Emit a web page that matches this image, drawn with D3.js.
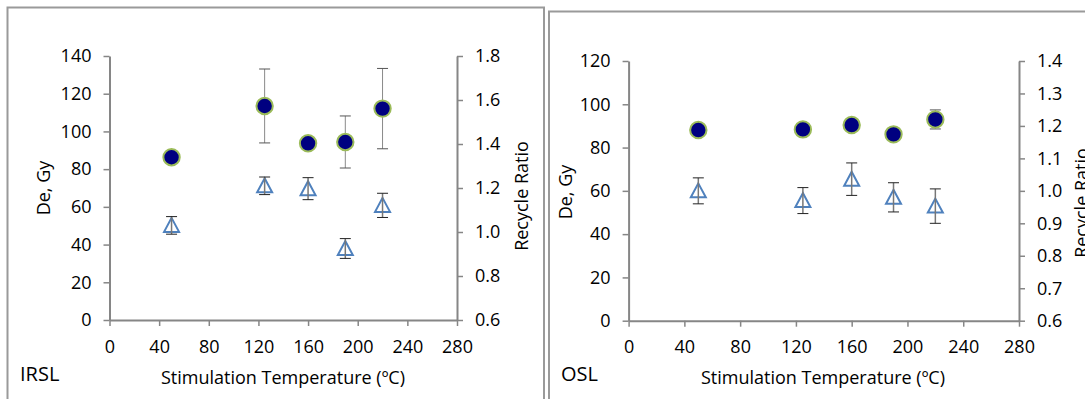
<!DOCTYPE html>
<html><head><meta charset="utf-8">
<script src="https://cdn.jsdelivr.net/npm/d3@7"></script>
<style>body{margin:0;background:#fff;}svg{display:block;}</style>
</head><body>
<svg id="c" width="1085" height="399"></svg>
<script>
// ---- data ----
const temps = [50, 125, 160, 190, 220];
const xTicks = [0, 40, 80, 120, 160, 200, 240, 280];

const irslDe = [86.3, 113.5, 93.7, 94.4, 112.1];
const irslDeErr = [2, 19.6, 2, 13.8, 21.3];
const irslRR = [1.03, 1.21, 1.197, 0.925, 1.121];
const irslRRErr = [0.04, 0.04, 0.05, 0.045, 0.055];
const irslLeftTicks = [0, 20, 40, 60, 80, 100, 120, 140];
const irslRightTicks = [0.6, 0.8, 1.0, 1.2, 1.4, 1.6, 1.8];

const oslDe = [88.1, 88.4, 90.4, 86.1, 93.0];
const oslDeErr = [2, 2, 2, 2, 4.4];
const oslRR = [1.0, 0.97, 1.036, 0.98, 0.953];
const oslRRErr = [0.04, 0.04, 0.05, 0.045, 0.053];
const oslLeftTicks = [0, 20, 40, 60, 80, 100, 120];
const oslRightTicks = [0.6, 0.7, 0.8, 0.9, 1.0, 1.1, 1.2, 1.3, 1.4];

const xTitle = "Stimulation Temperature (ºC)";
const yTitle = "De, Gy";
const y2Title = "Recycle Ratio";

const svg = d3.select("#c");
const FONT = "'Open Sans', Lato, sans-serif";
const AX = "#868686";

// panel borders
svg.append("rect").attr("x", 7.5).attr("y", 7.5).attr("width", 536.5).attr("height", 420)
  .attr("fill", "none").attr("stroke", "#9a9a9a").attr("stroke-width", 2);
svg.append("rect").attr("x", 549).attr("y", 11.5).attr("width", 560).attr("height", 420)
  .attr("fill", "none").attr("stroke", "#9a9a9a").attr("stroke-width", 2);

function panel(o) {
  const g = svg.append("g");
  const x = d3.scaleLinear().domain([0, 280]).range([o.x0, o.x1]);
  const y = d3.scaleLinear().domain([0, o.yMax]).range([o.yB, o.yT]);
  const y2 = d3.scaleLinear().domain([0.6, o.y2Max]).range([o.yB, o.yT]);

  const styleAxis = sel => {
    sel.select(".domain").attr("stroke", AX).attr("stroke-width", 2);
    sel.selectAll(".tick line").attr("stroke", AX).attr("stroke-width", 1.5);
    sel.selectAll(".tick text").attr("fill", "#000").style("font-family", FONT).style("font-size", "18px");
  };

  g.append("g").attr("transform", `translate(0,${o.yB})`)
    .call(d3.axisBottom(x).tickValues(xTicks).tickSize(6).tickSizeOuter(0).tickPadding(14).tickFormat(d3.format("d")))
    .call(styleAxis);
  g.append("g").attr("transform", `translate(${o.x0},0)`)
    .call(d3.axisLeft(y).tickValues(o.leftTicks).tickSize(6).tickSizeOuter(0).tickPadding(12).tickFormat(d3.format("d")))
    .call(styleAxis);
  g.append("g").attr("transform", `translate(${o.x1},0)`)
    .call(d3.axisRight(y2).tickValues(o.rightTicks).tickSize(6).tickSizeOuter(0).tickPadding(12).tickFormat(d3.format(".1f")))
    .call(styleAxis);

  // titles
  g.append("text").attr("x", o.xTitleX).attr("y", 384).attr("text-anchor", "middle")
    .style("font-family", FONT).style("font-size", "18px").text(xTitle);
  g.append("text").attr("transform", `translate(${o.yTitleX},${o.yTitleY}) rotate(-90)`)
    .attr("text-anchor", "middle").attr("dy", "0.35em")
    .style("font-family", FONT).style("font-size", "18px").text(yTitle);
  g.append("text").attr("transform", `translate(${o.y2TitleX},${o.y2TitleY}) rotate(-90)`)
    .attr("text-anchor", "middle").attr("dy", "0.35em")
    .style("font-family", FONT).style("font-size", "18px").text(y2Title);
  g.append("text").attr("x", o.labelX).attr("y", 381)
    .style("font-family", FONT).style("font-size", "20px").text(o.label);

  const cap = 5.5;
  // De error bars
  temps.forEach((t, i) => {
    const cx = x(t), a = y(o.de[i] + o.deErr[i]), b = y(o.de[i] - o.deErr[i]);
    g.append("line").attr("x1", cx).attr("x2", cx).attr("y1", a).attr("y2", b).attr("stroke", "#8a8a8a").attr("stroke-width", 1);
    [a, b].forEach(v => g.append("line").attr("x1", cx - cap).attr("x2", cx + cap).attr("y1", v).attr("y2", v)
      .attr("stroke", "#555").attr("stroke-width", 1));
  });
  // De circles
  g.selectAll(null).data(temps).join("circle")
    .attr("cx", d => x(d)).attr("cy", (d, i) => y(o.de[i])).attr("r", 8.2)
    .attr("fill", "#000080").attr("stroke", "#9BBB59").attr("stroke-width", 2);
  // RR triangles
  temps.forEach((t, i) => {
    const cx = x(t), cy = y2(o.rr[i]);
    g.append("path").attr("d", `M${cx},${cy - 7.5}L${cx + 7.5},${cy + 6.5}L${cx - 7.5},${cy + 6.5}Z`)
      .attr("fill", "#fff").attr("stroke", "#4F81BD").attr("stroke-width", 2).attr("stroke-linejoin", "miter");
    const a = y2(o.rr[i] + o.rrErr[i]), b = y2(o.rr[i] - o.rrErr[i]);
    g.append("line").attr("x1", cx).attr("x2", cx).attr("y1", a).attr("y2", b).attr("stroke", "#777").attr("stroke-width", 1.5);
    [a, b].forEach(v => g.append("line").attr("x1", cx - cap).attr("x2", cx + cap).attr("y1", v).attr("y2", v)
      .attr("stroke", "#222").attr("stroke-width", 1));
  });
}

panel({x0: 109.5, x1: 457, yB: 320, yT: 56, yMax: 140, y2Max: 1.8,
  leftTicks: irslLeftTicks, rightTicks: irslRightTicks,
  de: irslDe, deErr: irslDeErr, rr: irslRR, rrErr: irslRRErr,
  xTitleX: 283, yTitleX: 43.5, yTitleY: 188, y2TitleX: 522, y2TitleY: 196,
  label: "IRSL", labelX: 20});

panel({x0: 628.6, x1: 1019, yB: 320.7, yT: 61, yMax: 120, y2Max: 1.4,
  leftTicks: oslLeftTicks, rightTicks: oslRightTicks,
  de: oslDe, deErr: oslDeErr, rr: oslRR, rrErr: oslRRErr,
  xTitleX: 823, yTitleX: 566, yTitleY: 192, y2TitleX: 1082, y2TitleY: 203,
  label: "OSL", labelX: 561});
</script>
</body></html>
